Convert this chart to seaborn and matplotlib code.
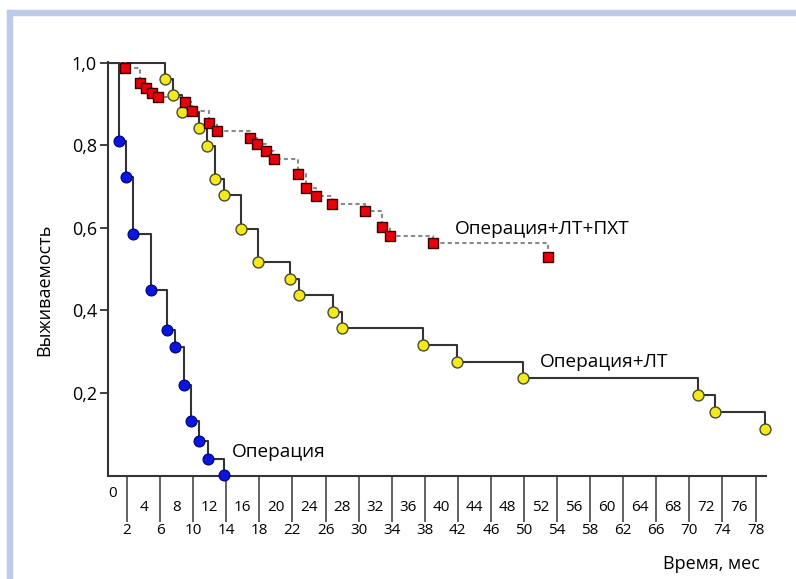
import numpy as np
import pandas as pd
import matplotlib
matplotlib.use("Agg")
import matplotlib.pyplot as plt
from matplotlib.patches import Rectangle
import seaborn as sns

# ---------------------------------------------------
# Daten
# ---------------------------------------------------
op_months = [1.0, 1.9, 2.7, 4.9, 6.8, 7.8, 8.9, 9.7, 10.7, 11.8, 13.7]
op_surv = [0.81, 0.724, 0.585, 0.45, 0.353, 0.31, 0.218, 0.131, 0.082, 0.039, 0.0]

lt_months = [6.6, 7.6, 8.6, 10.7, 11.7, 12.6, 13.7, 15.8, 17.8, 21.7, 22.8,
             26.9, 28.0, 37.8, 41.9, 49.9, 71.0, 73.1, 79.1]
lt_surv = [0.961, 0.922, 0.88, 0.842, 0.799, 0.719, 0.68, 0.598, 0.518, 0.475,
           0.436, 0.395, 0.356, 0.315, 0.274, 0.235, 0.194, 0.153, 0.111]

pxt_months = [1.76, 3.6, 4.3, 5.0, 5.8, 9.0, 9.8, 11.9, 12.9, 16.9, 17.75, 18.8,
              19.8, 22.7, 23.7, 24.8, 26.8, 30.8, 32.8, 33.8, 38.95, 52.9]
pxt_surv = [0.988, 0.952, 0.94, 0.928, 0.917, 0.905, 0.884, 0.853, 0.835, 0.818,
            0.804, 0.785, 0.767, 0.731, 0.697, 0.678, 0.658, 0.641, 0.603, 0.581,
            0.562, 0.528]

group_labels = ["Операция", "Операция+ЛТ", "Операция+ЛТ+ПХТ"]
y_ticks = [0.2, 0.4, 0.6, 0.8, 1.0]
y_tick_labels = ["0,2", "0,4", "0,6", "0,8", "1,0"]
x_lower_ticks = list(range(2, 79, 4))
x_upper_ticks = list(range(4, 77, 4))

# ---------------------------------------------------
# Stil
# ---------------------------------------------------
sns.set_style("ticks", {"text.color": "black", "axes.labelcolor": "black",
                        "xtick.color": "black", "ytick.color": "black"})
plt.rcParams["font.family"] = ["Open Sans", "DejaVu Sans"]

fig = plt.figure(figsize=(7.96, 5.79), dpi=100)
ax = fig.add_axes([108 / 796, 103 / 579, 657.5 / 796, 414 / 579])

# blauer Rahmen
fig.patches.append(Rectangle((7 / 796, 1 - 15 / 579), 1, 5 / 579,
                             transform=fig.transFigure, color="#bdcbea", zorder=0))
fig.patches.append(Rectangle((7 / 796, 0), 5 / 796, 1 - 10 / 579,
                             transform=fig.transFigure, color="#bdcbea", zorder=0))


def curve(months, surv):
    return pd.DataFrame({"t": [0.0] + months, "s": [1.0] + surv})


line_color = "#333333"

# Operation + LT (gelb)
lt_df = curve(lt_months, lt_surv)
sns.lineplot(data=lt_df, x="t", y="s", ax=ax, drawstyle="steps-post",
             color=line_color, lw=1.5, zorder=2)
sns.scatterplot(x=lt_months, y=lt_surv, ax=ax, marker="o", s=62,
                color="#f3ea1c", edgecolor="#4a4a30", linewidth=1.0,
                zorder=3, clip_on=False)

# Operation + LT + PXT (rot)
pxt_df = curve(pxt_months, pxt_surv)
sns.lineplot(data=pxt_df, x="t", y="s", ax=ax, drawstyle="steps-post",
             color="#8a8a8a", lw=1.5, linestyle=(0, (2, 1.5)), zorder=2)
sns.scatterplot(x=pxt_months, y=pxt_surv, ax=ax, marker="s", s=55,
                color="#e8000a", edgecolor="#3a0000", linewidth=1.0,
                zorder=4, clip_on=False)

# Operation (blau)
op_df = curve(op_months, op_surv)
sns.lineplot(data=op_df, x="t", y="s", ax=ax, drawstyle="steps-post",
             color=line_color, lw=1.5, zorder=2)
sns.scatterplot(x=op_months, y=op_surv, ax=ax, marker="o", s=62,
                color="#0a16e0", edgecolor="#000070", linewidth=0.8,
                zorder=5, clip_on=False)

# Beschriftungen der Kurven
ax.text(op_months[-1] + 1.0, 0.056, group_labels[0], fontsize=13.7,
        ha="left", va="center")
ax.text(51.9, 0.274, group_labels[1], fontsize=13.7, ha="left", va="center")
ax.text(41.7, 0.598, group_labels[2], fontsize=13.7, ha="left", va="center")

# ---------------------------------------------------
# Achsen
# ---------------------------------------------------
ax.set_xlim(-0.3, 79.2)
ax.set_ylim(-0.002, 1.002)
sns.despine(ax=ax)
for side in ["left", "bottom"]:
    ax.spines[side].set_color("#333333")
    ax.spines[side].set_linewidth(1.5)

ax.set_yticks(y_ticks)
ax.set_yticklabels(y_tick_labels, fontsize=13)
ax.tick_params(axis="y", direction="out", length=6, width=1.3,
               color="#333333", pad=2)

ax.set_xticks(x_lower_ticks)
ax.set_xticklabels([str(v) for v in x_lower_ticks], fontsize=11)
ax.set_xticks(x_upper_ticks, minor=True)
ax.set_xticklabels([str(v) for v in x_upper_ticks], minor=True, fontsize=11)
ax.tick_params(axis="x", which="major", direction="out", length=33, width=1.3,
               color="#555555", pad=1)
ax.tick_params(axis="x", which="minor", length=0, pad=17)
ax.text(0.3, -0.025, "0", transform=ax.get_xaxis_transform(),
        fontsize=11, ha="center", va="top")

ax.set_xlabel("Время, мес", fontsize=13, ha="right")
ax.xaxis.set_label_coords(0.992, -0.19)
ax.set_ylabel("Выживаемость", fontsize=13)
ax.yaxis.set_label_coords(-0.084, 0.449)

fig.savefig("out.png", dpi=100)
plt.close(fig)
